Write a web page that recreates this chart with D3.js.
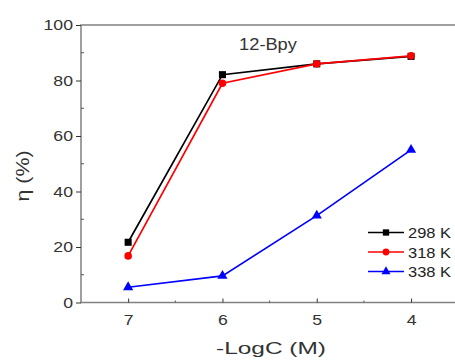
<!DOCTYPE html>
<html>
<head>
<meta charset="utf-8">
<script src="https://cdn.jsdelivr.net/npm/d3@7"></script>
<style>
  body { margin: 0; background: #fff; }
  text { font-family: Arial, "Liberation Sans", sans-serif; }
</style>
</head>
<body>
<div id="chart"></div>
<script>
const concs = [7, 6, 5, 4];
const eta298 = [21.7, 82.1, 86.0, 88.7];
const eta318 = [16.8, 79.0, 86.0, 88.9];
const eta338 = [5.5, 9.6, 31.3, 55.0];
const seriesNames = ['298 K', '318 K', '338 K'];
const yTicks = [0, 20, 40, 60, 80, 100];

const width = 455, height = 361;
const plotLeft = 81, plotTop = 25, plotBottom = 302.5;
const stretch = 1.14; // the source picture is a bit wide, so widen text

const x = d3.scaleLinear().domain([7.5, 3.5]).range([plotLeft, plotLeft + 4 * 94.3]);
const y = d3.scaleLinear().domain([0, 100]).range([plotBottom, plotTop]);

const svg = d3.select('#chart')
  .append('svg')
  .attr('width', width)
  .attr('height', height);

function widen(sel, k) {
  sel.each(function() {
    const w = this.getComputedTextLength();
    d3.select(this).attr('textLength', w * (k || stretch)).attr('lengthAdjust', 'spacingAndGlyphs');
  });
}

const axisColor = '#808080';

// frame
svg.append('rect')
  .attr('x', x(7.5)).attr('y', y(100))
  .attr('width', x(3.5) - x(7.5)).attr('height', y(0) - y(100))
  .attr('fill', 'none').attr('stroke', axisColor).attr('stroke-width', 1.5);

// y axis ticks
const yAxis = d3.axisLeft(y).tickValues(yTicks).tickSize(5).tickPadding(3);
const gy = svg.append('g').attr('transform', `translate(${plotLeft},0)`).call(yAxis);
gy.select('.domain').remove();
gy.selectAll('line').attr('stroke', '#333');
gy.selectAll('text').attr('font-size', 15.5).attr('fill', '#333').call(widen);
svg.append('g').selectAll('line')
  .data(d3.range(10, 100, 20))
  .enter().append('line')
  .attr('x1', plotLeft).attr('x2', plotLeft + 3)
  .attr('y1', d => y(d)).attr('y2', d => y(d))
  .attr('stroke', '#555');

// x axis ticks (inward)
const xAxis = d3.axisBottom(x).tickValues(concs).tickSize(-4).tickPadding(11).tickFormat(d3.format('d'));
const gx = svg.append('g').attr('transform', `translate(0,${plotBottom})`).call(xAxis);
gx.select('.domain').remove();
gx.selectAll('line').attr('stroke', '#333');
gx.selectAll('text').attr('font-size', 15.5).attr('fill', '#333').call(widen);
svg.append('g').selectAll('line')
  .data([6.5, 5.5, 4.5])
  .enter().append('line')
  .attr('x1', d => x(d)).attr('x2', d => x(d))
  .attr('y1', plotBottom).attr('y2', plotBottom - 2)
  .attr('stroke', '#555');

// axis titles
svg.append('text')
  .attr('x', 271).attr('y', 354)
  .attr('text-anchor', 'middle').attr('font-size', 17).attr('fill', '#333')
  .text('-LogC (M)')
  .attr('textLength', 110).attr('lengthAdjust', 'spacingAndGlyphs');
svg.append('text')
  .attr('transform', 'translate(29,176) rotate(-90)')
  .attr('text-anchor', 'middle').attr('font-size', 18).attr('fill', '#333')
  .text('η (%)')
  .attr('textLength', 51).attr('lengthAdjust', 'spacingAndGlyphs');

svg.append('text')
  .attr('x', 268).attr('y', 50)
  .attr('text-anchor', 'middle').attr('font-size', 16).attr('fill', '#333')
  .text('12-Bpy')
  .call(widen);

const series = [
  {name: seriesNames[0], values: eta298, color: '#000000', shape: d3.symbolSquare, size: 50},
  {name: seriesNames[1], values: eta318, color: '#ff0000', shape: d3.symbolCircle, size: 45},
  {name: seriesNames[2], values: eta338, color: '#0000ff', shape: d3.symbolTriangle, size: 45}
];

const line = d3.line().x((d, i) => x(concs[i])).y(d => y(d));

series.forEach(s => {
  svg.append('path')
    .datum(s.values)
    .attr('d', line)
    .attr('fill', 'none')
    .attr('stroke', s.color)
    .attr('stroke-width', 1.7);
  svg.append('g').selectAll('path')
    .data(s.values)
    .enter().append('path')
    .attr('d', d3.symbol().type(s.shape).size(s.size))
    .attr('transform', (d, i) => `translate(${x(concs[i])},${y(d)})`)
    .attr('fill', s.color);
});

// legend
const legend = svg.append('g');
series.forEach((s, i) => {
  const ly = 232.5 + i * 19.5;
  legend.append('line')
    .attr('x1', 368).attr('x2', 404).attr('y1', ly).attr('y2', ly)
    .attr('stroke', s.color).attr('stroke-width', 1.7);
  legend.append('path')
    .attr('d', d3.symbol().type(s.shape).size(s.size * 0.8))
    .attr('transform', `translate(386,${ly})`)
    .attr('fill', s.color);
  legend.append('text')
    .attr('x', 408).attr('y', ly + 5.5)
    .attr('font-size', 15).attr('fill', '#222')
    .text(s.name)
    .attr('textLength', 43).attr('lengthAdjust', 'spacingAndGlyphs');
});
</script>
</body>
</html>
